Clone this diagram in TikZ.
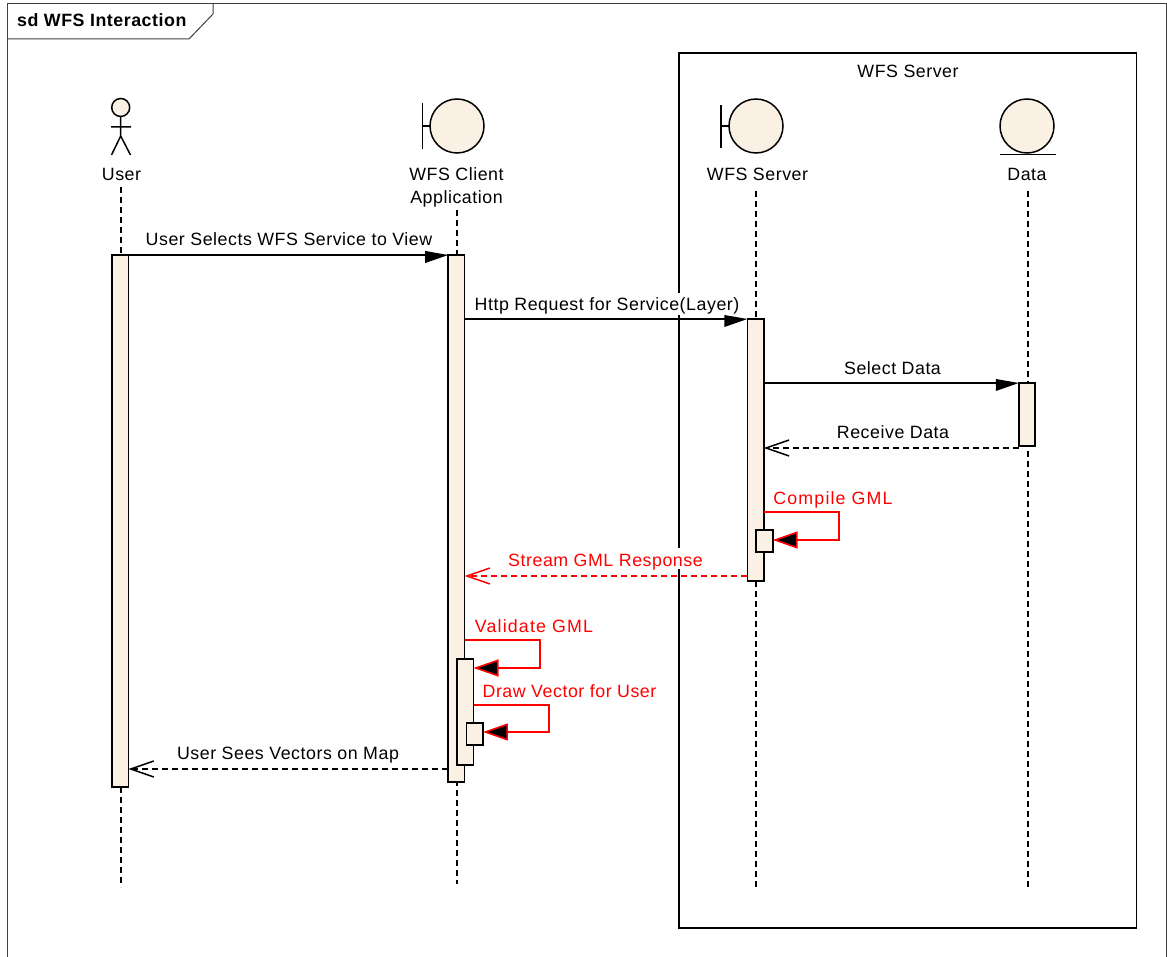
\documentclass[tikz,border=0pt]{standalone}
\usepackage{fontspec}
\setmainfont[LetterSpace=3]{Liberation Sans}
\usetikzlibrary{arrows.meta,calc}
\definecolor{cream}{RGB}{250,241,228}
\pgfdeclarearrow{
  name=SkewTri,
  setup code={\pgfarrowssettipend{0pt}\pgfarrowssetlineend{-12pt}\pgfarrowssetvisualbackend{-23pt}\pgfarrowssetbackend{-23pt}},
  drawing code={\pgfpathmoveto{\pgfqpoint{0pt}{0pt}}\pgfpathlineto{\pgfqpoint{-23pt}{4pt}}\pgfpathlineto{\pgfqpoint{-23pt}{-8pt}}\pgfpathclose\pgfusepathqfill}
}
\tikzset{
  x=1pt,y=-1pt,
  lbl/.style={font=\fontsize{17.8}{23}\selectfont,inner sep=0pt,anchor=base,text=black},
  rlbl/.style={lbl,text=red},
  act/.style={draw=black,fill=cream,line width=1.7pt,minimum width=16.4pt,inner sep=0pt,outer sep=0pt,anchor=north},
  life/.style={draw=black,line width=1.5pt,dash pattern=on 6pt off 4pt},
  msg/.style={draw=black,line width=1.5pt,-{SkewTri}},
  ret/.style={draw=black,line width=1.5pt,dash pattern=on 6pt off 4pt,-{Straight Barb[length=23pt,width=16pt,line width=1.5pt]}},
  rret/.style={ret,draw=red},
  self/.style={draw=red,line width=1.6pt,-{Triangle[length=25pt,width=17pt,fill=black]}},
  lifeh/.style={draw=black,fill=cream,line width=1.5pt,circle,inner sep=0pt,outer sep=0pt},
}
\begin{document}
\begin{tikzpicture}
\useasboundingbox (0,0) rectangle (1167,957);
\fill[white] (0,0) rectangle (1167,957);
% frame
\draw[black!75,line width=1pt] (7,957) -- (7,4) -- (1166.5,4) -- (1166.5,957);
\draw[black!75,line width=1pt] (7,39) -- (189,39) -- (213,14) -- (213,4);
\node[anchor=base west,font=\fontsize{17.8}{21}\selectfont\bfseries,inner sep=0pt] (frame) at (17,27) {sd WFS Interaction};
% server box
\node[draw=black,line width=1.6pt,minimum width=457.5pt,minimum height=875pt,anchor=north west,inner sep=0pt,outer sep=0pt] (sbox) at (679,53) {};
\node[lbl] (sboxl) at (908,77.5) {WFS Server};
% actor
\node[lifeh,minimum size=18pt] (head) at (120.7,107.5) {};
\coordinate (hip) at (120.7,136);
\coordinate (lf) at (111.5,155);
\coordinate (rf) at (130.5,155);
\coordinate (al) at (111,127);
\coordinate (ar) at (131,127);
\draw[line width=1.5pt] (head.south) -- (hip) (al) -- (ar) (lf) -- (hip) -- (rf);
\node[lbl] (userl) at (121.5,181) {User};
% client
\node[lifeh,minimum size=54pt] (cc) at (457,126) {};
\coordinate (cb1) at (422.5,103);
\coordinate (cb2) at (422.5,149);
\draw[line width=1.5pt] (cb1) -- (cb2) (cb1|-cc.west) -- (cc.west);
\node[lbl,anchor=center,align=center,font=\fontsize{17.8}{23}\selectfont] (cl) at (456.5,187) {WFS Client\\Application};
% server
\node[lifeh,minimum size=54pt] (sc) at (756,126) {};
\coordinate (sb1) at (721,105);
\coordinate (sb2) at (721,148);
\draw[line width=1.5pt] (sb1) -- (sb2) (sb1|-sc.west) -- (sc.west);
\node[lbl] (sl) at (757.5,181) {WFS Server};
% data
\node[lifeh,minimum size=54pt] (dc) at (1027,126) {};
\coordinate (dl1) at (1000,154.5);
\coordinate (dl2) at (1056,154.5);
\draw[line width=1.5pt] (dl1) -- (dl2);
\node[lbl] (dl) at (1027,181) {Data};
% lifelines
\coordinate (ue) at (121,887);
\coordinate (ce) at (457,884);
\coordinate (se) at (756,889);
\coordinate (de) at (1028,889);
\draw[life] (121,187) -- (ue);
\draw[life] (457,210) -- (ce);
\draw[life] (756,191) -- (se);
\draw[life] (1028,191) -- (de);
% activations
\node[act,minimum height=532pt] (ua) at (120.3,255) {};
\node[act,minimum height=526.7pt] (ca) at (456.4,255) {};
\node[act,minimum height=262.3pt] (sa) at (755.6,319) {};
\node[act,minimum height=63pt] (da) at (1027,383) {};
\node[act,minimum height=22.3pt] (sb) at (764.5,530) {};
\node[act,minimum height=106pt] (cb) at (465.3,659) {};
\node[act,minimum height=22.3pt] (cd) at (474.7,722.7) {};
% messages
\draw[msg] (ua.east|-0,255) -- (ca.west|-0,255);
\node[lbl] (m1) at (289,246) {User Selects WFS Service to View};
\draw[msg] (ca.east|-0,319) -- (sa.west|-0,319);
\node[lbl,fill=white,text height=18pt,text depth=4pt] (m2) at (607,311) {Http Request for Service(Layer)};
\draw[msg] (sa.east|-0,383) -- (da.west|-0,383);
\node[lbl] (m3) at (892.5,374.5) {Select Data};
\draw[ret] (da.west|-0,448) -- (sa.east|-0,448);
\node[lbl] (m4) at (893,438.5) {Receive Data};
\draw[self] (sa.east|-0,512) -| (839,540) -- (sb.east|-0,540);
\node[rlbl] (m5) at (833,504.5) {\addfontfeature{LetterSpace=6.5}Compile GML};
\draw[rret] (sa.west|-0,576) -- (ca.east|-0,576);
\node[rlbl,fill=white,text height=18pt,text depth=3pt] (m6) at (605.5,566) {Stream GML Response};
\draw[self] (ca.east|-0,640) -| (540,668) -- (cb.east|-0,668);
\node[rlbl] (m7) at (534,632.5) {\addfontfeature{LetterSpace=6.5}Validate GML};
\draw[self] (cb.east|-0,705) -| (549,732) -- (cd.east|-0,732);
\node[rlbl] (m8) at (569.5,697.5) {Draw Vector for User};
\draw[ret] (ca.west|-0,769) -- (ua.east|-0,769);
\node[lbl] (m9) at (288,759.5) {User Sees Vectors on Map};
\end{tikzpicture}
\end{document}
